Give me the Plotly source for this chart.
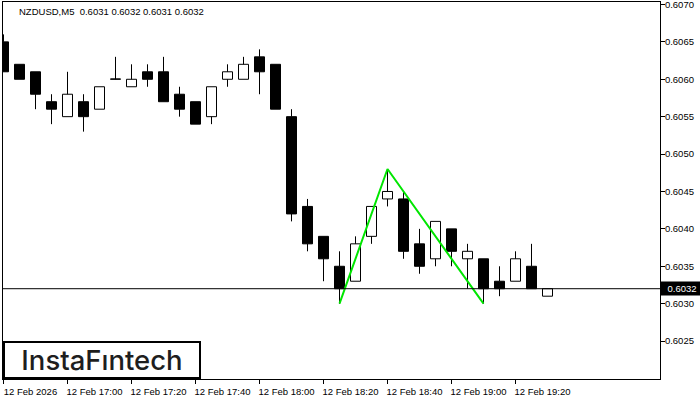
import plotly.graph_objects as go

# ---------------- data ----------------
day = "2026-02-12 "
times = ["16:40", "16:45", "16:50", "16:55", "17:00", "17:05", "17:10", "17:15",
         "17:20", "17:25", "17:30", "17:35", "17:40", "17:45", "17:50", "17:55",
         "18:00", "18:05", "18:10", "18:15", "18:20", "18:25", "18:30", "18:35",
         "18:40", "18:45", "18:50", "18:55", "19:00", "19:05", "19:10", "19:15",
         "19:20", "19:25", "19:30"]
opens = [0.6065, 0.6062, 0.6061, 0.6057, 0.6055, 0.6057, 0.6056, 0.6060,
         0.6059, 0.6061, 0.6061, 0.6058, 0.6057, 0.6055, 0.6060, 0.6060,
         0.6063, 0.6062, 0.6055, 0.6043, 0.6039, 0.6035, 0.6033, 0.6039,
         0.6044, 0.6044, 0.6038, 0.6036, 0.6040, 0.6036, 0.6036, 0.6033,
         0.6033, 0.6035, 0.6031]
highs = [0.6066, 0.6062, 0.6061, 0.6058, 0.6061, 0.6058, 0.6059, 0.6063,
         0.6062, 0.6062, 0.6063, 0.6059, 0.6057, 0.6059, 0.6062, 0.6063,
         0.6064, 0.6062, 0.6056, 0.6044, 0.6039, 0.6037, 0.6039, 0.6043,
         0.6048, 0.6045, 0.6040, 0.6041, 0.6040, 0.6038, 0.6036, 0.6035,
         0.6037, 0.6038, 0.6032]
lows = [0.6061, 0.6060, 0.6056, 0.6054, 0.6055, 0.6053, 0.6056, 0.6060,
        0.6059, 0.6059, 0.6057, 0.6055, 0.6054, 0.6054, 0.6059, 0.6060,
        0.6058, 0.6056, 0.6041, 0.6037, 0.6033, 0.6030, 0.6033, 0.6038,
        0.6043, 0.6036, 0.6034, 0.6035, 0.6035, 0.6032, 0.6030, 0.6031,
        0.6033, 0.6032, 0.6031]
closes = [0.6061, 0.6060, 0.6058, 0.6056, 0.6058, 0.6055, 0.6059, 0.6060,
          0.6060, 0.6060, 0.6057, 0.6056, 0.6054, 0.6059, 0.6061, 0.6062,
          0.6061, 0.6056, 0.6042, 0.6038, 0.6036, 0.6032, 0.6038, 0.6043,
          0.6045, 0.6037, 0.6035, 0.6041, 0.6037, 0.6037, 0.6032, 0.6032,
          0.6036, 0.6032, 0.6032]

pattern_times = ["18:25", "18:40", "19:10"]
pattern_prices = [0.6030, 0.6048, 0.6030]

tick_times = ["16:40", "17:00", "17:20", "17:40", "18:00", "18:20", "18:40", "19:00", "19:20"]
tick_text = ["12 Feb 2026", "12 Feb 17:00", "12 Feb 17:20", "12 Feb 17:40", "12 Feb 18:00",
             "12 Feb 18:20", "12 Feb 18:40", "12 Feb 19:00", "12 Feb 19:20"]
y_ticks = [0.6025, 0.6030, 0.6035, 0.6040, 0.6045, 0.6050, 0.6055, 0.6060, 0.6065, 0.6070]
y_tick_text = ["0.6025", "0.6030", "0.6035", "0.6040", "0.6045", "0.6050",
               "0.6055", "0.6060", "0.6065", "0.6070"]

symbol_title = "NZDUSD,M5\u00a0\u00a00.6031 0.6032 0.6031 0.6032"
logo_text = "InstaF\u0131ntech"

# ---------------- build ----------------
xs = [day + t for t in times]
FONT = "Liberation Sans, Arial, sans-serif"
BODY_W = 187500  # ms
EPS = 0.000005

fig = go.Figure()

for bull in (False, True):
    idx = [i for i in range(len(xs)) if (closes[i] > opens[i]) == bull]
    fig.add_trace(go.Bar(
        x=[xs[i] for i in idx],
        base=[min(opens[i], closes[i]) for i in idx],
        y=[max(abs(closes[i] - opens[i]), EPS) for i in idx],
        width=BODY_W,
        marker=dict(color="white" if bull else "black", line=dict(color="black", width=1)),
        hoverinfo="skip", showlegend=False,
    ))

wx, wy = [], []
for i in range(len(xs)):
    top = max(opens[i], closes[i])
    bot = min(opens[i], closes[i])
    if highs[i] > top:
        wx += [xs[i], xs[i], None]
        wy += [highs[i], top, None]
    if lows[i] < bot:
        wx += [xs[i], xs[i], None]
        wy += [bot, lows[i], None]
fig.add_trace(go.Scatter(x=wx, y=wy, mode="lines", line=dict(color="black", width=1),
                         hoverinfo="skip", showlegend=False))

fig.add_trace(go.Scatter(x=[day + t for t in pattern_times], y=pattern_prices, mode="lines",
                         line=dict(color="#00E600", width=2), hoverinfo="skip", showlegend=False))

current = closes[-1]
fig.add_shape(type="line", xref="paper", x0=0, x1=1, yref="y", y0=current, y1=current,
              line=dict(color="black", width=1))

fig.add_annotation(xref="paper", x=0, xanchor="left", xshift=14,
                   yref="paper", y=1, yanchor="middle", yshift=-9,
                   text=symbol_title, showarrow=False,
                   font=dict(family=FONT, size=9.5, color="black"))

fig.add_annotation(xref="paper", x=1, xanchor="left", yref="y", y=current, yanchor="middle",
                   text=f"{current:.4f}", showarrow=False, bgcolor="black", width=40,
                   align="center", borderpad=1,
                   font=dict(family=FONT, size=9.5, color="white"))

fig.add_annotation(xref="paper", x=0, xanchor="left", yref="paper", y=0, yanchor="bottom",
                   text=logo_text, showarrow=False, bgcolor="white", bordercolor="black",
                   borderwidth=2, borderpad=0, width=194, height=34, align="center",
                   font=dict(family="Inter, sans-serif", size=27.5, color="#1e1e1e", weight=500))

fig.update_layout(
    width=700, height=400,
    margin=dict(l=3, r=40, t=2, b=21, autoexpand=False),
    paper_bgcolor="white", plot_bgcolor="white",
    barmode="overlay", showlegend=False,
    font=dict(family=FONT, size=9.5, color="black"),
    xaxis=dict(
        type="date",
        range=[day + "16:39:50.625", day + "20:05:09.375"],
        tickvals=[day + t for t in tick_times], ticktext=tick_text,
        ticks="outside", ticklen=4, tickcolor="black",
        ticklabelshift=27,
        showline=True, linecolor="black", linewidth=1, mirror=True,
        showgrid=False, zeroline=False, automargin=False,
        tickfont=dict(family=FONT, size=9.5, color="black"),
    ),
    yaxis=dict(
        side="right",
        range=[0.601993, 0.607033],
        tickvals=y_ticks, ticktext=y_tick_text,
        ticks="outside", ticklen=4, tickcolor="black",
        ticklabelstandoff=-2, ticklabeloverflow="allow",
        showline=True, linecolor="black", linewidth=1, mirror=True,
        showgrid=False, zeroline=False, automargin=False,
        tickfont=dict(family=FONT, size=9.5, color="black"),
    ),
)

fig.write_html(
    "out.html",
    config={"displayModeBar": False},
    post_script="document.body.style.margin='0';document.body.style.padding='0';",
)
